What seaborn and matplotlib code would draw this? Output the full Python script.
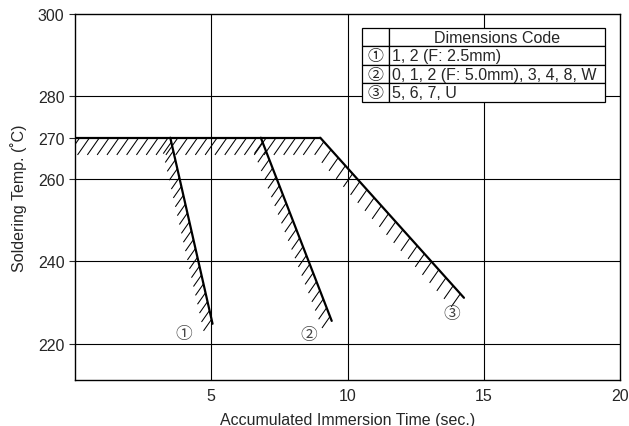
import matplotlib
matplotlib.use("Agg")
import matplotlib.pyplot as plt
from matplotlib.collections import LineCollection
from matplotlib.transforms import IdentityTransform
import numpy as np
import seaborn as sns

# plateau and the three limit curves (time in sec, temp in C)
plateau_time = [0.0, 9.0]
plateau_temp = [270, 270]
curve_times = [[3.5, 5.05], [6.82, 9.42], [9.0, 14.27]]
curve_temps = [[270, 224.9], [270, 225.6], [270, 231.2]]
curve_labels = ["①", "②", "③"]

table_codes = ["①", "②", "③"]
table_dims = ["1, 2 (F: 2.5mm)", "0, 1, 2 (F: 5.0mm), 3, 4, 8, W", "5, 6, 7, U"]

x_ticks = [5, 10, 15, 20]
y_ticks = [220, 240, 260, 270, 280, 300]
grid_y = [220, 240, 260, 280]

sns.set_style("white")
plt.rcParams["font.family"] = ["Liberation Sans", "Noto Sans CJK JP"]

fig, ax = plt.subplots(figsize=(6.29, 4.27), dpi=100)
fig.subplots_adjust(left=0.119, right=0.986, top=0.965, bottom=0.108)

ax.set_xlim(0, 20)
ax.set_ylim(211.3, 300)

for gx in x_ticks[:-1]:
    ax.axvline(gx, color="black", lw=0.8, zorder=1)
for gy in grid_y:
    ax.axhline(gy, color="black", lw=0.8, zorder=1)


def tick_hatch(xs, ys, length, spacing, angle=55):
    # short "/" strokes hanging down-left from a line, in pixel space
    p = ax.transData.transform(np.column_stack([xs, ys]))
    seg = p[1] - p[0]
    n = max(int(np.hypot(*seg) // spacing), 1)
    t = (np.arange(n) + 0.5) / n
    starts = p[0] + np.outer(t, seg)
    a = np.radians(angle)
    d = -length * np.array([np.cos(a), np.sin(a)])
    lc = LineCollection([[s, s + d] for s in starts], colors="black", linewidths=0.75,
                        transform=IdentityTransform(), zorder=2)
    ax.add_collection(lc, autolim=False)


tick_hatch(plateau_time, plateau_temp, length=21, spacing=9.5)
for xs, ys, L, sp in zip(curve_times, curve_temps, [14, 14, 16], [9, 9, 10.5]):
    tick_hatch(xs, ys, length=L, spacing=sp)

sns.lineplot(x=plateau_time, y=plateau_temp, color="black", lw=1.6, ax=ax, zorder=3)
for xs, ys in zip(curve_times, curve_temps):
    sns.lineplot(x=xs, y=ys, color="black", lw=1.6, ax=ax, zorder=3)

label_offsets = [(-21, -7), (-16.5, -9.5), (-8.5, -11.5)]
for xs, ys, lab, off in zip(curve_times, curve_temps, curve_labels, label_offsets):
    ax.annotate(lab, (xs[1], ys[1]), xytext=off, textcoords="offset points",
                ha="center", va="center", fontsize=12, color="#444444")

ax.set_xticks(x_ticks)
ax.set_yticks(y_ticks)
ax.tick_params(axis="x", length=0, pad=6, labelsize=11.5)
ax.tick_params(axis="y", length=4, width=0.8, direction="out", labelsize=11.5, left=True)
ax.set_xlabel("Accumulated Immersion Time (sec.)", fontsize=11.5, labelpad=6)
ax.set_ylabel("Soldering Temp. (˚C)", fontsize=11.5, labelpad=8)
for s in ax.spines.values():
    s.set_color("black")
    s.set_linewidth(1.0)

rows = [["", "Dimensions Code"]] + [[c, d] for c, d in zip(table_codes, table_dims)]
tbl = ax.table(cellText=rows, colWidths=[0.11, 0.89], bbox=[0.527, 0.760, 0.446, 0.202],
               cellLoc="left")
tbl.auto_set_font_size(False)
tbl.set_fontsize(11.5)
tbl.set_zorder(5)
for (r, c), cell in tbl.get_celld().items():
    cell.set_linewidth(0.9)
    cell.set_edgecolor("black")
    cell.set_facecolor("white")
    if c == 0 or r == 0:
        cell.get_text().set_ha("center")
        cell._loc = "center"
    else:
        cell.PAD = 0.015

fig.savefig("out.png", dpi=100)
